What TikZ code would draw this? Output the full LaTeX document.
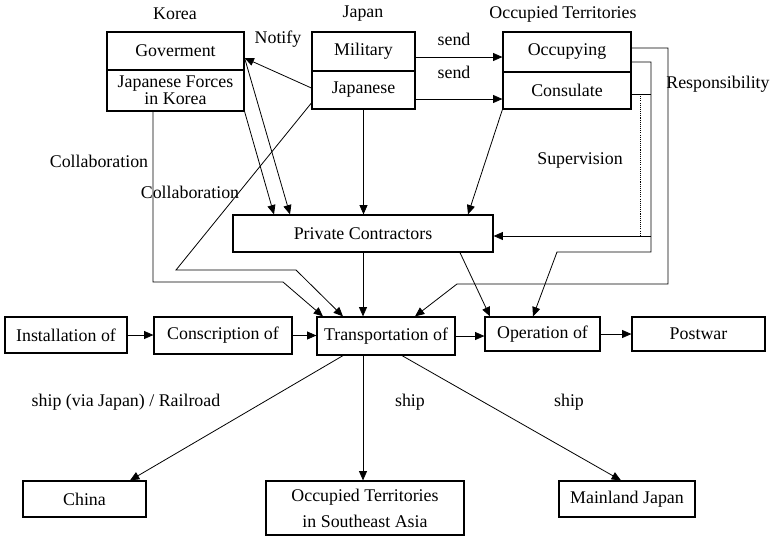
\documentclass[tikz,border=0pt]{standalone}
\usepackage{fontspec}
\setmainfont{Liberation Serif}
\usetikzlibrary{arrows.meta,calc}
\begin{document}
\begin{tikzpicture}[x=0.75pt,y=-0.75pt,
  every node/.style={font=\fontsize{13.4}{15}\selectfont},
  bx/.style={draw, line width=0.9pt, inner sep=0pt, align=center},
  lbl/.style={inner sep=0pt},
  link/.style={line width=0.6pt},
  arr/.style={link, -{Triangle[length=7pt,width=6pt]}},
  dotln/.style={line width=0.5pt, dash pattern=on 0.8pt off 0.8pt}]
\useasboundingbox (0,0) rectangle (774,536);
% group labels
\node[lbl] (lkorea) at (175,14) {Korea};
\node[lbl] (ljapan) at (363,14) {Japan};
\node[lbl] (locc) at (563,14) {Occupied Territories};
% top boxes
\node[bx, minimum width=102.75pt, minimum height=28.5pt] (gov) at (175.5,51) {Goverment};
\node[bx, minimum width=102.75pt, minimum height=30.75pt, font=\fontsize{13.4}{11.5}\selectfont] (jfk) at (175.5,90.5) {Japanese Forces\\in Korea};
\node[bx, minimum width=77.25pt, minimum height=29.25pt] (mil) at (363.5,51.5) {Military};
\node[bx, minimum width=77.25pt, minimum height=28.5pt] (jpn) at (363.5,90) {Japanese};
\node[bx, minimum width=96pt, minimum height=30pt] (ocp) at (567,52) {Occupying};
\node[bx, minimum width=96pt, minimum height=27.75pt] (con) at (567,90.5) {Consulate};
% middle
\node[bx, minimum width=195pt, minimum height=27.75pt] (pc) at (363,233.5) {Private Contractors};
\node[bx, minimum width=91.5pt, minimum height=27pt] (inst) at (66,335) {Installation of};
\node[bx, minimum width=103.5pt, minimum height=27.75pt] (consc) at (223,335.5) {Conscription of};
\node[bx, minimum width=103.5pt, minimum height=28.5pt] (trans) at (386,336) {Transportation of};
\node[bx, minimum width=86.25pt, minimum height=25.5pt] (oper) at (542.5,334) {Operation of};
\node[bx, minimum width=99.75pt, minimum height=25.5pt] (post) at (698.5,334) {Postwar};
% bottom
\node[bx, minimum width=92.25pt, minimum height=27pt] (china) at (84.5,499) {China};
\node[bx, minimum width=148.5pt, minimum height=40.5pt, font=\fontsize{13.4}{19.5}\selectfont] (sea) at (365,508) {Occupied Territories\\in Southeast Asia};
\node[bx, minimum width=102pt, minimum height=27pt] (mj) at (627,499) {Mainland Japan};
% labels
\node[lbl] (lnotify) at (278,39) {Notify};
\node[lbl] (lsend1) at (454,39) {send};
\node[lbl] (lsend2) at (454,72) {send};
\node[lbl] (lcol1) at (99,161) {Collaboration};
\node[lbl] (lcol2) at (190,192) {Collaboration};
\node[lbl] (lsup) at (580,160) {Supervision};
\node[lbl] (lresp) at (718,84) {Responsibility};
\node[lbl] (lship1) at (126,402) {ship (via Japan) / Railroad};
\node[lbl] (lship2) at (410,402) {ship};
\node[lbl] (lship3) at (569,402) {ship};
% connectors top
\draw[arr] (jpn.west |- 0,88) -- (gov.east |- 0,58);
\draw[arr] (gov.east |- 0,58) -- (pc.north -| 290,0);
\draw[arr] (jfk.south east) -- (pc.north -| 274,0);
\draw[arr] (mil.east |- 0,57) -- (ocp.west |- 0,57);
\draw[arr] (jpn.east |- 0,99) -- (con.west |- 0,99);
\draw[arr] (jpn.south) -- (pc.north -| jpn.south);
\draw[arr] (con.south west) -- (pc.north -| 468,0);
\draw[arr] (jpn.west |- 0,103) -- (176,270) -- (296,270) -- (trans.north -| 343,0);
\draw[arr] (jfk.south -| 153,0) -- (153,282) -- (283,282) -- (trans.north -| 323,0);
\draw[arr] (pc.south) -- (trans.north -| pc.south);
\draw[arr] (ocp.east |- 0,62) -- (651,62) -- (651,252) -- (557,252) -- (oper.north -| 533,0);
\draw[link] (con.east |- 0,94) -- (651,94);
\draw[arr] (651,236) -- (pc.east |- 0,236);
\draw[dotln] (640,94) -- (640,236);
\draw[arr] (ocp.east |- 0,48) -- (668,48) -- (668,284) -- (457,284) -- (trans.north -| 415,0);
\draw[arr] (pc.south -| 460,0) -- (oper.north -| 490,0);
% main row
\draw[arr] (inst.east) -- (consc.west |- inst.east);
\draw[arr] (consc.east) -- (trans.west |- consc.east);
\draw[arr] (trans.east) -- (oper.west |- trans.east);
\draw[arr] (oper.east) -- (post.west |- oper.east);
% bottom
\draw[arr] (trans.south -| 343,0) -- (china.north -| 130,0);
\draw[arr] (trans.south -| 363,0) -- (sea.north -| 363,0);
\draw[arr] (trans.south -| 402,0) -- (mj.north -| 621,0);
\end{tikzpicture}
\end{document}
